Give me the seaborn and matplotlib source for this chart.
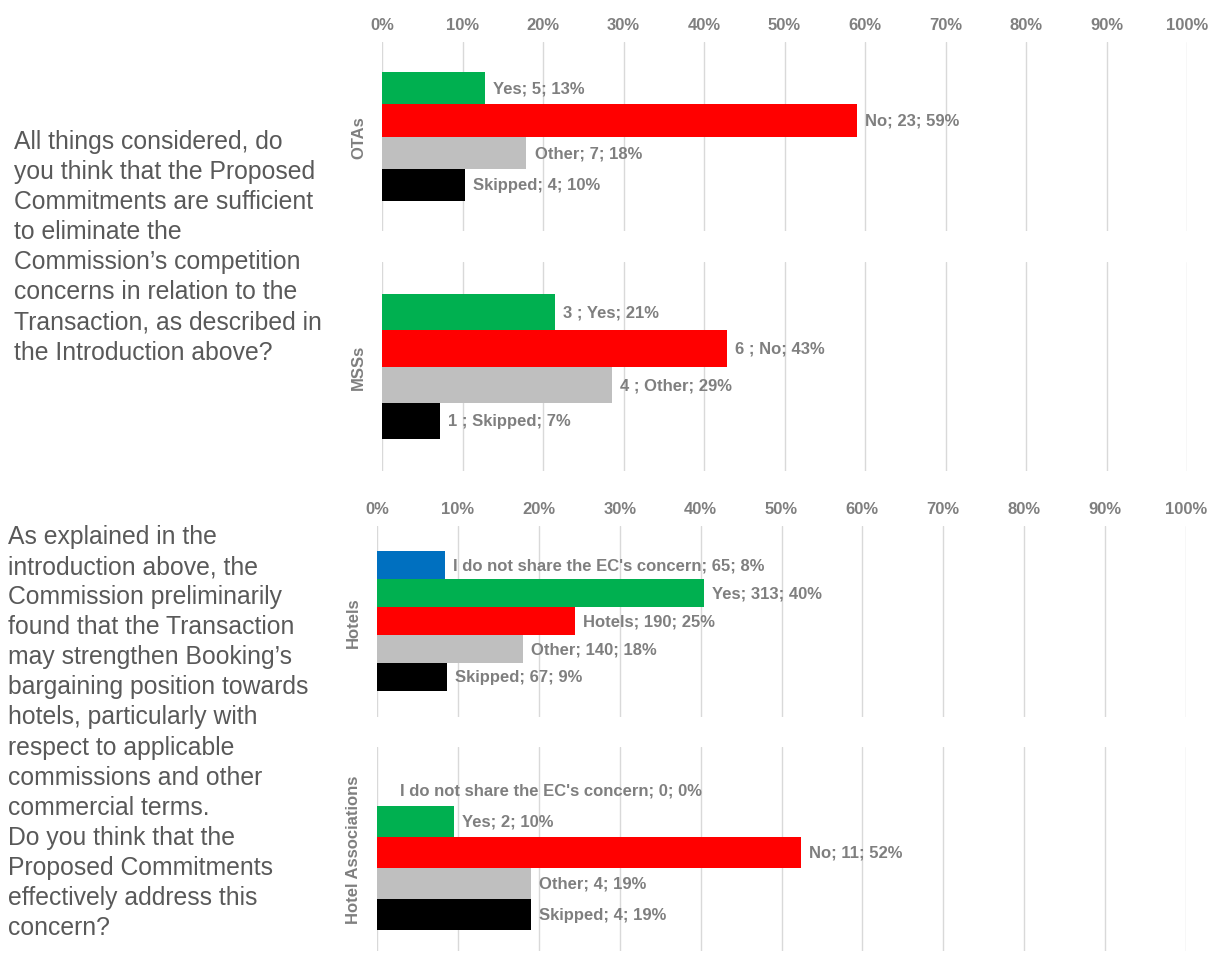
import matplotlib
matplotlib.use("Agg")
import matplotlib.pyplot as plt
import seaborn as sns
import pandas as pd

# ---------------- data ----------------
cats4 = ["Yes", "No", "Other", "Skipped"]
cats5 = ["I do not share", "Yes", "No", "Other", "Skipped"]

otas_counts = [5, 23, 7, 4]
otas_labels = ["Yes; 5; 13%", "No; 23; 59%", "Other; 7; 18%", "Skipped; 4; 10%"]

msss_counts = [3, 6, 4, 1]
msss_labels = ["3 ; Yes; 21%", "6 ; No; 43%", "4 ; Other; 29%", "1 ; Skipped; 7%"]

hotels_counts = [65, 313, 190, 140, 67]
hotels_labels = ["I do not share the EC's concern; 65; 8%", "Yes; 313; 40%",
                 "Hotels; 190; 25%", "Other; 140; 18%", "Skipped; 67; 9%"]

assoc_counts = [0, 2, 11, 4, 4]
assoc_labels = ["I do not share the EC's concern; 0; 0%", "Yes; 2; 10%",
                "No; 11; 52%", "Other; 4; 19%", "Skipped; 4; 19%"]

xticks = [0, 10, 20, 30, 40, 50, 60, 70, 80, 90, 100]
xtick_labels = ["0%", "10%", "20%", "30%", "40%", "50%", "60%", "70%", "80%", "90%", "100%"]

question1 = ("All things considered, do\nyou think that the Proposed\nCommitments are sufficient\n"
             "to eliminate the\nCommission\u2019s competition\nconcerns in relation to the\n"
             "Transaction, as described in\nthe Introduction above?")
question2 = ("As explained in the\nintroduction above, the\nCommission preliminarily\n"
             "found that the Transaction\nmay strengthen Booking\u2019s\nbargaining position towards\n"
             "hotels, particularly with\nrespect to applicable\ncommissions and other\n"
             "commercial terms.\nDo you think that the\nProposed Commitments\n"
             "effectively address this\nconcern?")

colors = {"I do not share": "#0070C0", "Yes": "#00B050", "No": "#FF0000",
          "Other": "#BFBFBF", "Skipped": "#000000"}

# ---------------- style ----------------
sns.set_theme(style="white")
plt.rcParams["font.family"] = ["Liberation Sans", "DejaVu Sans"]

W, H = 1209, 954
fig = plt.figure(figsize=(W / 100, H / 100), dpi=100)

GRAY_TXT = "#7F7F7F"
FS = 12


def make_panel(x0, x1, y_top, y_bot, cats, counts, labels, name, pad_top, pad_bot,
               show_ticks):
    ax = fig.add_axes([x0 / W, 1 - y_bot / H, (x1 - x0) / W, (y_bot - y_top) / H])
    total = sum(counts)
    df = pd.DataFrame({"cat": cats, "pct": [c / total * 100 for c in counts]})
    sns.barplot(data=df, y="cat", x="pct", hue="cat", order=cats, hue_order=cats,
                palette=[colors[c] for c in cats], orient="h", width=1.0,
                legend=False, ax=ax, linewidth=0, saturation=1)
    ax.set_xlim(0, 100)
    n = len(cats)
    ax.set_ylim(n - 0.5 + pad_bot, -0.5 - pad_top)
    ax.set_xticks(xticks)
    ax.xaxis.tick_top()
    if show_ticks:
        ax.set_xticklabels(xtick_labels, fontsize=FS, fontweight="bold", color=GRAY_TXT)
    else:
        ax.set_xticklabels([])
    ax.tick_params(axis="x", length=0, pad=7.5)
    ax.set_yticks([])
    ax.set_xlabel("")
    ax.set_ylabel(name, fontsize=FS, fontweight="bold", color=GRAY_TXT)
    ax.yaxis.set_label_coords(-16 / (x1 - x0), 0.5)
    ax.grid(axis="x", color="#D9D9D9", linewidth=1)
    ax.set_axisbelow(True)
    for s in ax.spines.values():
        s.set_visible(False)
    for cont, lab, cnt in zip(ax.containers, labels, counts):
        ax.bar_label(cont, labels=[lab], padding=5.8 if cnt > 0 else 16.5,
                     fontsize=FS, fontweight="bold", color=GRAY_TXT)
    return ax


make_panel(382, 1187, 43, 232, cats4, otas_counts, otas_labels, "OTAs", 0.93, 0.93, True)
make_panel(382, 1187, 263, 472, cats4, msss_counts, msss_labels, "MSSs", 0.88, 0.88, False)
make_panel(377, 1186, 527, 718, cats5, hotels_counts, hotels_labels, "Hotels", 0.89, 0.93, True)
make_panel(377, 1186, 748, 952, cats5, assoc_counts, assoc_labels, "Hotel Associations", 0.9, 0.68, False)

fig.text(14 / W, 1 - 130 / H, question1, fontsize=17.8, color="#595959",
         va="top", ha="left", linespacing=1.32)
fig.text(8 / W, 1 - 525 / H, question2, fontsize=17.8, color="#595959",
         va="top", ha="left", linespacing=1.32)

fig.savefig("out.png", dpi=100, facecolor="white")
